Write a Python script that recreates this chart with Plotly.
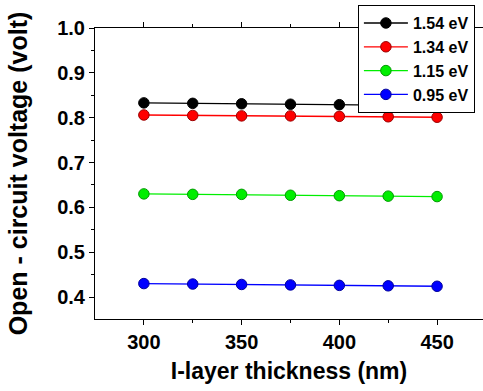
import plotly.graph_objects as go

thickness = [300, 325, 350, 375, 400, 425, 450]
voc_154 = [0.833, 0.832, 0.831, 0.830, 0.829, 0.828, 0.827]
voc_134 = [0.806, 0.805, 0.804, 0.804, 0.803, 0.802, 0.801]
voc_115 = [0.630, 0.629, 0.629, 0.627, 0.626, 0.625, 0.624]
voc_095 = [0.430, 0.429, 0.428, 0.427, 0.426, 0.425, 0.424]

series = [
    ("1.54 eV", voc_154, "black", "#000000"),
    ("1.34 eV", voc_134, "red", "#990000"),
    ("1.15 eV", voc_115, "#00ee00", "#009900"),
    ("0.95 eV", voc_095, "blue", "#000099"),
]

fig = go.Figure()
for name, ys, col, edge in series:
    fig.add_trace(go.Scatter(
        x=thickness, y=ys, name=name, mode="lines+markers",
        line=dict(color=col, width=1.3),
        marker=dict(symbol="circle", size=10.5, color=col, line=dict(color=edge, width=1)),
    ))

font = "Liberation Sans, Arial, sans-serif"
fig.update_layout(
    width=483, height=391,
    margin=dict(l=95, r=0, t=28, b=72, autoexpand=False),
    plot_bgcolor="white", paper_bgcolor="white",
    font=dict(family=font, color="black"),
    showlegend=True,
    legend=dict(
        xref="container", yref="container",
        x=0.741, y=0.987, xanchor="left", yanchor="top",
        bgcolor="white", bordercolor="black", borderwidth=1,
        font=dict(family=font, size=16, color="black", weight="bold"),
        itemwidth=44, tracegroupgap=0,
    ),
    xaxis=dict(
        range=[275, 473.5],
        tickvals=[300, 350, 400, 450],
        ticks="outside", ticklen=5, tickwidth=1, tickcolor="black",
        minor=dict(tickvals=[325, 375, 425], ticks="outside", ticklen=3, tickcolor="black"),
        showline=True, linecolor="black", linewidth=1, mirror="ticks",
        showgrid=False, zeroline=False,
        tickfont=dict(size=20, family=font, weight="bold"),
        title=dict(text="I-layer thickness (nm)", font=dict(size=23, family=font, weight="bold"), standoff=10),
    ),
    yaxis=dict(
        range=[0.351, 1.0],
        tickvals=[0.4, 0.5, 0.6, 0.7, 0.8, 0.9, 1.0],
        ticktext=["0.4", "0.5", "0.6", "0.7", "0.8", "0.9", "1.0"],
        ticks="outside", ticklen=5, tickwidth=1, tickcolor="black",
        minor=dict(tickvals=[0.45, 0.55, 0.65, 0.75, 0.85, 0.95], ticks="outside", ticklen=3, tickcolor="black"),
        showline=True, linecolor="black", linewidth=1, mirror="ticks",
        showgrid=False, zeroline=False,
        tickfont=dict(size=20, family=font, weight="bold"),
        title=dict(text="Open - circuit voltage (volt)", font=dict(size=25, family=font, weight="bold"), standoff=22),
    ),
)

fig.write_html("out.html")
